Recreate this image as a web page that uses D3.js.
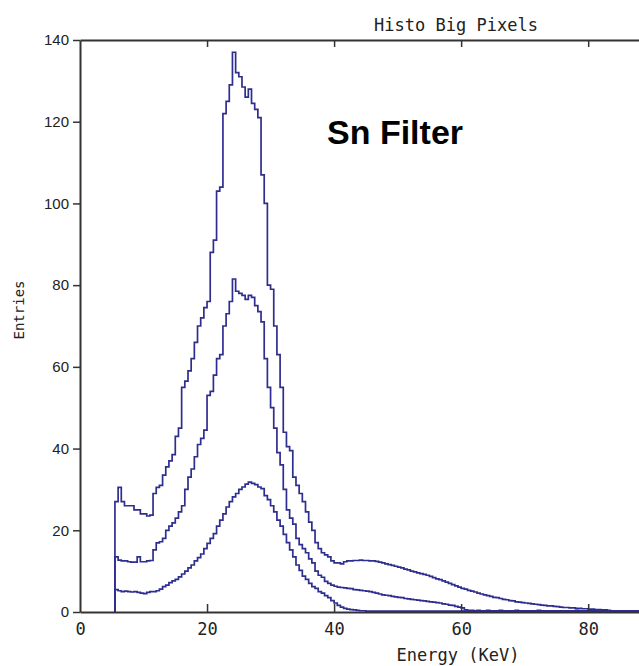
<!DOCTYPE html>
<html>
<head>
<meta charset="utf-8">
<script src="https://cdn.jsdelivr.net/npm/d3@7"></script>
<style>
  html, body { margin: 0; padding: 0; background: #ffffff; }
  svg { display: block; }
</style>
</head>
<body>
<div id="chart"></div>
<script>
// ---------- DATA ----------
const chartTitle = "Histo Big Pixels";
const annotation = "Sn Filter";
const xLabel = "Energy (KeV)";
const yLabel = "Entries";
const xTicks = [0, 20, 40, 60, 80];
const yTicks = [0, 20, 40, 60, 80, 100, 120, 140];
const energyStart = 5.5;   // first bin edge (keV)
const binWidth = 0.5;      // keV per bin

// upper histogram (peak ~137)
const seriesUpper = [
  27, 30.5, 27, 26, 26, 26, 25, 25, 24, 24,
  23.5, 23.7, 29, 30.5, 31, 33.5, 35.5, 37, 38.5, 43,
  45, 55, 56.5, 59, 62, 66, 70, 72, 74.5, 76,
  88, 91, 103, 104, 122, 125, 129, 137, 132, 131,
  128.5, 126, 128, 124.5, 123, 121, 107, 100, 80, 79,
  70, 63, 55, 44, 40.5, 39.5, 33, 31, 29, 27,
  24.5, 22, 20, 17, 15.5, 14.5, 14, 13.5, 12.5, 12,
  12, 11.8, 12.3, 12.5, 12.5, 12.6, 12.6, 12.7, 12.6, 12.6,
  12.5, 12.5, 12.4, 12.2, 12, 11.8, 11.6, 11.4, 11.2, 11,
  10.8, 10.5, 10.3, 10, 9.8, 9.6, 9.4, 9.2, 9, 8.7,
  8.4, 8.1, 7.9, 7.6, 7.3, 7, 6.7, 6.4, 6.1, 5.8,
  5.6, 5.3, 5.1, 4.9, 4.6, 4.4, 4.2, 4, 3.8, 3.6,
  3.5, 3.3, 3.1, 3, 2.8, 2.7, 2.5, 2.4, 2.3, 2.2,
  2.1, 2, 1.9, 1.8, 1.7, 1.6, 1.5, 1.5, 1.4, 1.3,
  1.2, 1.1, 1.1, 1, 1, 0.9, 0.9, 0.8, 0.8, 0.7,
  0.7, 0.6, 0.6, 0.5, 0.5, 0.4, 0.3, 0.3, 0.3, 0.2,
  0.2, 0.2, 0.2, 0.2, 0.2
];

// middle histogram (peak ~81)
const seriesMiddle = [
  13.5, 12.7, 12.5, 12.5, 12.3, 12.2, 12.2, 13.5, 12.3, 12.3,
  12.5, 12.6, 15.2, 16.9, 17.2, 18, 20, 21, 21.8, 23,
  24.5, 26, 30, 33, 35, 38, 41, 42.5, 44.5, 53,
  54, 58, 62, 63, 70, 73, 76, 81.5, 78.5, 78,
  77.5, 76.5, 77.5, 77, 75, 73.5, 71, 62, 55, 50,
  45, 39, 36, 30, 25, 23, 21.5, 18, 16.5, 15.5,
  14.5, 13, 12, 10, 9, 8.5, 7.5, 7, 6.6, 6.3,
  6.1, 6, 5.9, 5.8, 5.7, 5.5, 5.4, 5.3, 5.2, 5.1,
  5, 4.8, 4.6, 4.4, 4.2, 4.1, 4, 3.8, 3.7, 3.6,
  3.5, 3.3, 3.2, 3.1, 3, 2.9, 2.8, 2.7, 2.6, 2.5,
  2.4, 2.3, 2.2, 2, 1.9, 1.7, 1.6, 1.4, 1.2, 1,
  0.5, 0.4, 0.4, 0.3, 0.4, 0.3, 0.3, 0.4, 0.3, 0.3,
  0.3, 0.4, 0.3, 0.3, 0.3, 0.3, 0.4, 0.3, 0.3, 0.3,
  0.3, 0.3, 0.3, 0.4, 0.3, 0.3, 0.3, 0.3, 0.3, 0.3,
  0.3, 0.3, 0.3, 0.3, 0.3, 0.4, 0.3, 0.3, 0.3, 0.3,
  0.3, 0.3, 0.3, 0.3, 0.3, 0.3, 0.3, 0.3, 0.3, 0.3,
  0.3, 0.3, 0.3, 0.3, 0.3
];

// lower histogram (peak ~32)
const seriesLower = [
  5.5, 5.2, 5, 5.1, 5, 4.9, 5, 4.8, 4.6, 4.5,
  4.8, 5, 5, 5.2, 5.6, 6.2, 6.6, 7.2, 7.6, 8,
  8.6, 9.3, 10, 10.8, 11.5, 12.5, 13.3, 14.2, 15.5, 16.8,
  18, 19.2, 21, 22.5, 24, 25.7, 27, 28.2, 29, 30,
  30.6, 31.3, 31.8, 31.5, 31.2, 30.6, 30.2, 28.5, 27.5, 26,
  24.5, 22.5, 21, 19, 17, 15.2, 13.5, 11.5, 10.2, 8.8,
  8, 7, 6.2, 5.8, 5, 4.6, 4, 3.5, 2.8, 2.2,
  1.6, 1.2, 0.9, 0.7, 0.6, 0.5, 0.4, 0.3, 0.3, 0.2,
  0.2, 0.2, 0.2, 0.2, 0.2, 0.2, 0.2, 0.2, 0.2, 0.2,
  0.2, 0.2, 0.2, 0.2, 0.2, 0.2, 0.2, 0.2, 0.2, 0.2,
  0.2, 0.2, 0.2, 0.2, 0.2, 0.2, 0.2, 0.2, 0.2, 0.2,
  0.2, 0.2, 0.2, 0.2, 0.2, 0.2, 0.2, 0.2, 0.2, 0.2,
  0.2, 0.2, 0.2, 0.2, 0.2, 0.2, 0.2, 0.2, 0.2, 0.2,
  0.2, 0.2, 0.2, 0.2, 0.2, 0.2, 0.2, 0.2, 0.2, 0.2,
  0.2, 0.2, 0.2, 0.2, 0.2, 0.2, 0.2, 0.2, 0.2, 0.2,
  0.2, 0.2, 0.2, 0.2, 0.2, 0.2, 0.2, 0.2, 0.2, 0.2,
  0.2, 0.2, 0.2, 0.2, 0.2
];

const seriesList = [seriesUpper, seriesMiddle, seriesLower];

// ---------- CHART ----------
const W = 639, H = 666;
const plot = { left: 80, right: 639, top: 40, bottom: 612 };
const lineColor = "#2e2e8e";
const axisColor = "#333333";

const svg = d3.select("#chart").append("svg")
  .attr("width", W).attr("height", H)
  .style("background", "#ffffff");

const x = d3.scaleLinear().domain([0, 88]).range([plot.left, plot.right]);
const y = d3.scaleLinear().domain([0, 140]).range([plot.bottom, plot.top]);

svg.append("defs").append("clipPath").attr("id", "clip")
  .append("rect")
  .attr("x", plot.left).attr("y", plot.top - 2)
  .attr("width", plot.right - plot.left + 2)
  .attr("height", plot.bottom - plot.top + 2);

// histogram step lines
const line = d3.line()
  .x(d => x(d[0]))
  .y(d => y(d[1]))
  .curve(d3.curveStepAfter);

function toSteps(vals) {
  const pts = [[energyStart, 0]];
  vals.forEach((v, i) => pts.push([energyStart + i * binWidth, v]));
  pts.push([energyStart + vals.length * binWidth, vals[vals.length - 1]]);
  return pts;
}

svg.append("g").attr("clip-path", "url(#clip)")
  .selectAll("path")
  .data(seriesList)
  .join("path")
  .attr("d", d => line(toSteps(d)))
  .attr("fill", "none")
  .attr("stroke", lineColor)
  .attr("stroke-width", 1.7)
  .attr("stroke-linejoin", "miter");

// axes
const monoFont = "'DejaVu Sans Mono', monospace";
const sansFont = "Arial, 'Liberation Sans', sans-serif";

const yAxis = svg.append("g")
  .attr("transform", `translate(${plot.left},0)`)
  .call(d3.axisLeft(y).tickValues(yTicks).tickSizeInner(7).tickSizeOuter(0).tickPadding(4));
yAxis.selectAll("text")
  .attr("font-family", sansFont).attr("font-size", 15).attr("fill", "#222");

const xAxis = svg.append("g")
  .attr("transform", `translate(0,${plot.bottom})`)
  .call(d3.axisBottom(x).tickValues(xTicks).tickSizeInner(-8).tickSizeOuter(0).tickPadding(11));
xAxis.selectAll("text")
  .attr("font-family", monoFont).attr("font-size", 17).attr("fill", "#222");
xAxis.selectAll(".tick").filter(d => d === 0).select("line").remove();

const topAxis = svg.append("g")
  .attr("transform", `translate(0,${plot.top})`)
  .call(d3.axisTop(x).tickValues(xTicks.filter(d => d > 0)).tickSizeInner(-7).tickSizeOuter(0).tickFormat(""));

[yAxis, xAxis, topAxis].forEach(g => {
  g.select(".domain").attr("stroke", axisColor).attr("stroke-width", 2);
  g.selectAll(".tick line").attr("stroke", axisColor).attr("stroke-width", 1.5);
});

// titles
svg.append("text")
  .attr("x", 456).attr("y", 31)
  .attr("text-anchor", "middle")
  .attr("font-family", monoFont).attr("font-size", 17).attr("fill", "#222")
  .text(chartTitle);

svg.append("text")
  .attr("x", 458).attr("y", 661)
  .attr("text-anchor", "middle")
  .attr("font-family", monoFont).attr("font-size", 17).attr("fill", "#222")
  .text(xLabel);

svg.append("text")
  .attr("transform", "translate(24,310) rotate(-90)")
  .attr("text-anchor", "middle")
  .attr("font-family", monoFont).attr("font-size", 14).attr("fill", "#222")
  .text(yLabel);

svg.append("text")
  .attr("x", 327).attr("y", 144)
  .attr("font-family", sansFont).attr("font-weight", "bold")
  .attr("font-size", 34).attr("fill", "#000")
  .text(annotation);
</script>
</body>
</html>
